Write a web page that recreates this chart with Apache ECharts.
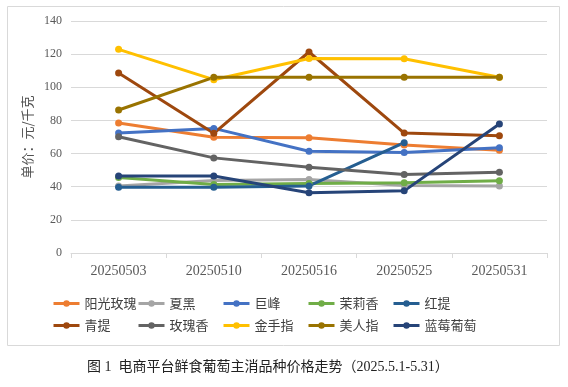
<!DOCTYPE html>
<html><head><meta charset="utf-8">
<script src="https://cdn.jsdelivr.net/npm/echarts@6/dist/echarts.min.js"></script>
<style>html,body{margin:0;padding:0;background:#fff}#c{width:568px;height:387px}</style>
</head><body><div id="c"></div>
<script>
const categories = ['20250503','20250510','20250516','20250525','20250531'];
const yTicks = [0,20,40,60,80,100,120,140];
const seriesNames = ['阳光玫瑰','夏黑','巨峰','茉莉香','红提','青提','玫瑰香','金手指','美人指','蓝莓葡萄'];
const yangguang = [78.5, 69.8, 69.6, 65.2, 62.0];
const xiahei = [40.5, 43.8, 44.3, 40.8, 40.4];
const jufeng = [72.4, 75.2, 61.4, 60.7, 63.5];
const molixiang = [45.5, 41.3, 42.0, 42.4, 43.6];
const hongti = [39.7, 39.7, 40.5, 66.6, null];
const qingti = [108.6, 72.2, 121.3, 72.4, 70.7];
const meiguixiang = [70.2, 57.4, 51.8, 47.4, 48.8];
const jinshouzhi = [122.9, 104.6, 117.4, 117.2, 106.0];
const meirenzhi = [86.3, 106.0, 106.0, 106.0, 106.0];
const lanmei = [46.5, 46.5, 36.3, 37.5, 77.8];
const seriesData = [yangguang, xiahei, jufeng, molixiang, hongti, qingti, meiguixiang, jinshouzhi, meirenzhi, lanmei];
const colors = ['#ED7D31','#A5A5A5','#4472C4','#70AD47','#255E91','#9E480E','#636363','#FFC000','#997300','#264478'];
const caption = '图 1  电商平台鲜食葡萄主消品种价格走势（2025.5.1-5.31）';

const chart = echarts.init(document.getElementById('c'), null, {renderer:'canvas'});
const colX = [52, 137, 222, 307, 392];
const rowY = [304, 326];
const legends = seriesNames.map((n, i) => ({
  data: [n],
  left: colX[i % 5],
  top: rowY[Math.floor(i / 5)] - 7,
  itemWidth: 26, itemHeight: 8, itemGap: 4,
  lineStyle: {width: 3},
  textStyle: {fontSize: 13, color: '#404040', fontFamily: 'Noto Sans CJK SC'},
  padding: 0
}));
chart.setOption({
  animation: false,
  color: colors,
  grid: {left: 71, right: 21, top: 21, bottom: 134, containLabel: false},
  legend: legends,
  xAxis: {
    type: 'category', data: categories, boundaryGap: true,
    axisLine: {lineStyle: {color: '#D9D9D9', width: 1}},
    axisTick: {show: true, length: 5, lineStyle: {color: '#D9D9D9'}},
    axisLabel: {color: '#595959', fontSize: 14, fontFamily: 'Liberation Serif', margin: 11}
  },
  yAxis: {
    type: 'value', min: 0, max: 140, interval: 20,
    name: '单价：元/千克', nameLocation: 'middle', nameGap: 22, nameRotate: 90,
    nameTextStyle: {color: '#505050', fontSize: 13, fontFamily: 'Noto Sans CJK SC'},
    axisLine: {show: false}, axisTick: {show: false},
    axisLabel: {color: '#595959', fontSize: 12, fontFamily: 'Liberation Serif', margin: 9},
    splitLine: {lineStyle: {color: '#D9D9D9', width: 1}}
  },
  series: seriesNames.map((n, i) => ({
    name: n, type: 'line', data: seriesData[i],
    symbol: 'circle', symbolSize: 7, showSymbol: true,
    lineStyle: {width: 3}, itemStyle: {color: colors[i]},
    connectNulls: false
  })),
  graphic: [
    {type: 'rect', shape: {x: 7.5, y: 6.5, width: 552, height: 339}, style: {fill: 'none', stroke: '#D9D9D9', lineWidth: 1}, silent: true, z: -1},
    {type: 'text', left: 87, top: 360, style: {text: caption, fill: '#222', font: '14px "Liberation Serif", "Noto Sans CJK SC"'}}
  ]
});
</script></body></html>
